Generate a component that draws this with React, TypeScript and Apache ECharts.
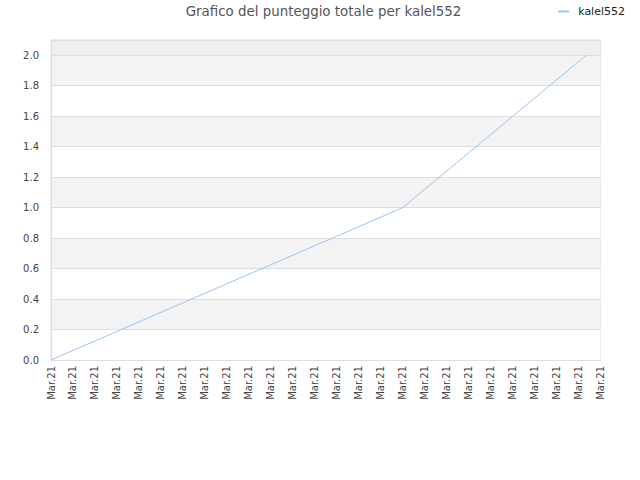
import React, { useEffect, useRef } from "react";
import * as echarts from "echarts";

const categories: string[] = Array.from({ length: 26 }, () => "Mar.21");
const seriesName = "kalel552";
const pointX: number[] = [0, 16, 24.35];
const pointY: number[] = [0, 1.0, 2.0];
const yTicks = { min: 0, max: 2.1, interval: 0.2 };

export default function App() {
  const ref = useRef<HTMLDivElement>(null);
  useEffect(() => {
    if (!ref.current) return;
    const chart = echarts.init(ref.current, undefined, { renderer: "svg" });
    const bandColors: string[] = [];
    for (let i = 0; i < 10; i++) bandColors.push(i % 2 === 0 ? "#ffffff" : "#f3f3f3");
    bandColors.push("#eeeeee");
    chart.setOption({
      animation: false,
      title: {
        text: "Grafico del punteggio totale per kalel552",
        left: 318.5,
        textAlign: "center",
        top: 0,
        textStyle: { fontFamily: "DejaVu Sans", fontSize: 13.4, fontWeight: "normal", color: "#555" },
      },
      legend: {
        right: 10,
        top: 1,
        itemWidth: 11,
        itemHeight: 2,
        icon: "rect",
        textStyle: { fontFamily: "DejaVu Sans", fontSize: 11, color: "#222", padding: [0, 0, 0, 4] },
        data: [seriesName],
      },
      grid: {
        left: 51,
        right: 39.5,
        top: 40,
        bottom: 120,
        show: true,
        borderColor: "#dddddd",
        borderWidth: 1,
        backgroundColor: "transparent",
      },
      xAxis: [
        {
          type: "category",
          data: categories,
          boundaryGap: false,
          axisLine: { show: true, lineStyle: { color: "#dddddd" } },
          axisTick: { show: false },
          splitLine: { show: false },
          axisLabel: {
            interval: 0,
            rotate: 90,
            margin: 6,
            fontFamily: "DejaVu Sans",
            fontSize: 10,
            color: "#444",
          },
        },
        {
          type: "value",
          min: 0,
          max: categories.length - 1,
          show: false,
        },
      ],
      yAxis: {
        type: "value",
        min: yTicks.min,
        max: yTicks.max,
        interval: yTicks.interval,
        axisLine: { show: true, lineStyle: { color: "#dddddd" } },
        axisTick: { show: false },
        splitLine: { show: true, lineStyle: { color: "#dddddd" } },
        splitArea: { show: true, areaStyle: { color: bandColors } },
        axisLabel: {
          margin: 12,
          fontFamily: "DejaVu Sans",
          fontSize: 10,
          color: "#444",
          showMaxLabel: false,
          formatter: (v: number) => (v > 2.05 ? "" : v.toFixed(1)),
        },
      },
      series: [
        {
          name: seriesName,
          type: "line",
          xAxisIndex: 1,
          data: pointX.map((x, i) => [x, pointY[i]]),
          showSymbol: false,
          lineStyle: { color: "#99c4f2", width: 1 },
          itemStyle: { color: "#99c4f2" },
        },
      ],
    });
    return () => chart.dispose();
  }, []);
  return <div ref={ref} style={{ width: 640, height: 480, position: "absolute", left: 0, top: 0 }} />;
}
